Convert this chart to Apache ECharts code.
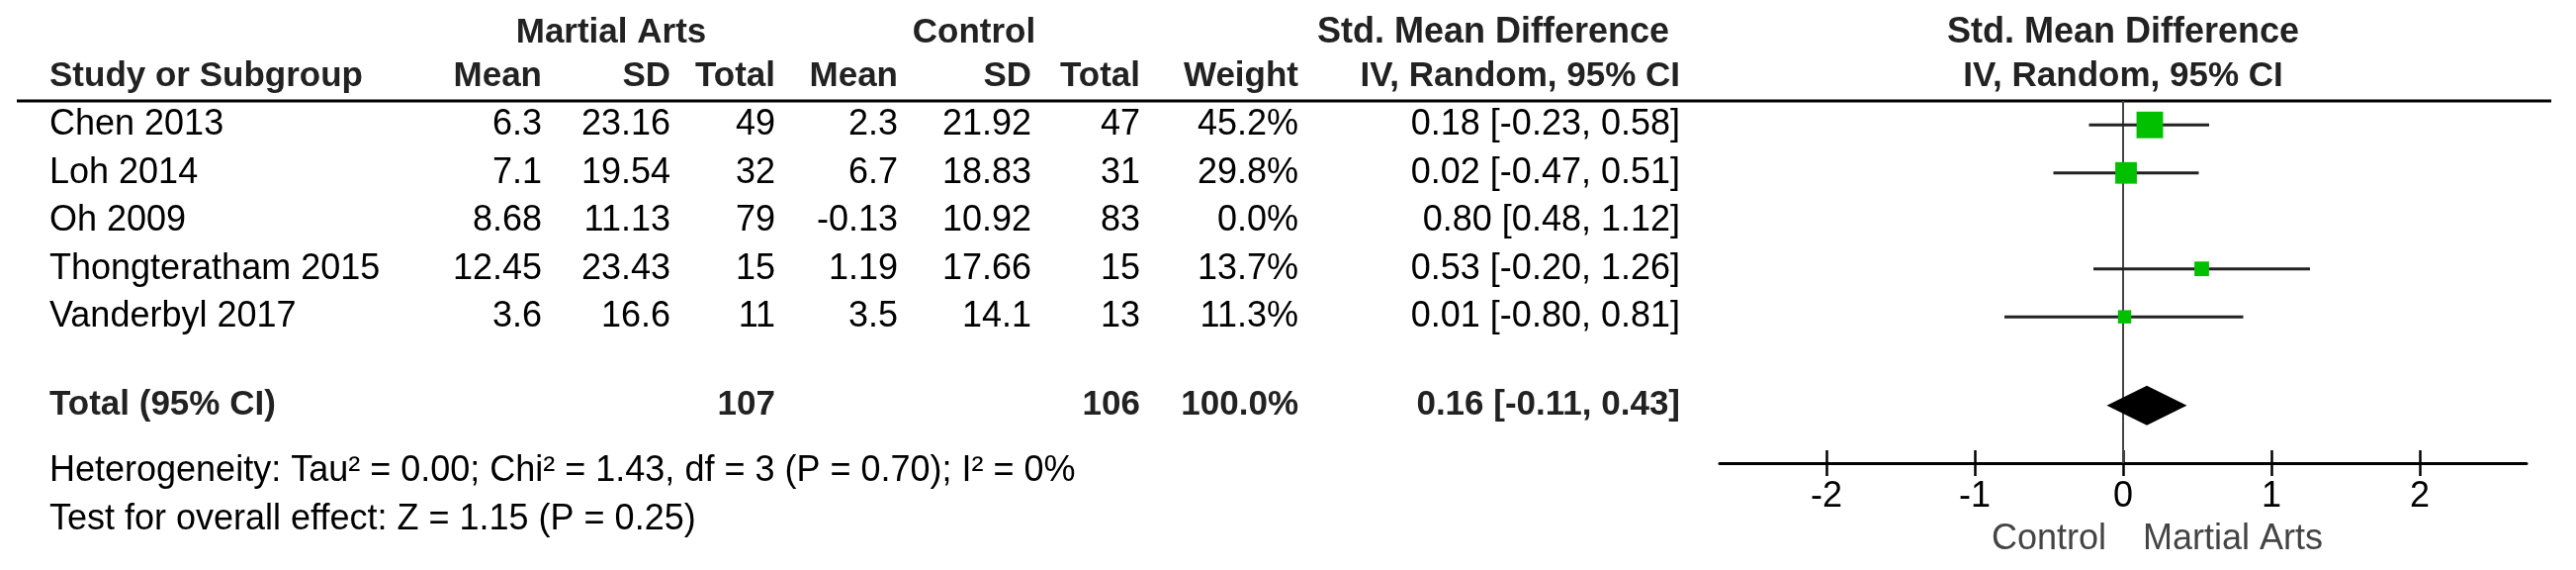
<!DOCTYPE html>
<html>
<head>
<meta charset="utf-8">
<script src="https://cdn.jsdelivr.net/npm/echarts@6/dist/echarts.min.js"></script>
<style>html,body{margin:0;padding:0;background:#fff}#c{width:2605px;height:576px}</style>
</head>
<body>
<div id="c"></div>
<script>
// ---------------- DATA ----------------
const studies   = ['Chen 2013', 'Loh 2014', 'Oh 2009', 'Thongteratham 2015', 'Vanderbyl 2017'];
const maMean    = [6.3, 7.1, 8.68, 12.45, 3.6];
const maSD      = [23.16, 19.54, 11.13, 23.43, 16.6];
const maTotal   = [49, 32, 79, 15, 11];
const cMean     = [2.3, 6.7, -0.13, 1.19, 3.5];
const cSD       = [21.92, 18.83, 10.92, 17.66, 14.1];
const cTotal    = [47, 31, 83, 15, 13];
const weight    = [45.2, 29.8, 0.0, 13.7, 11.3];
const smd       = [0.18, 0.02, 0.80, 0.53, 0.01];
const ciLow     = [-0.23, -0.47, 0.48, -0.20, -0.80];
const ciHigh    = [0.58, 0.51, 1.12, 1.26, 0.81];
const totalLabel = 'Total (95% CI)';
const totalMA   = 107;
const totalC    = 106;
const totalWeight = 100.0;
const totalSMD  = 0.16;
const totalLow  = -0.11;
const totalHigh = 0.43;
const heterogeneity = 'Heterogeneity: Tau² = 0.00; Chi² = 1.43, df = 3 (P = 0.70); I² = 0%';
const overallTest   = 'Test for overall effect: Z = 1.15 (P = 0.25)';
const xTicks    = [-2, -1, 0, 1, 2];
const groupHeaders = ['Martial Arts', 'Control', 'Std. Mean Difference', 'Std. Mean Difference'];
const colHeaders   = ['Study or Subgroup', 'Mean', 'SD', 'Total', 'Mean', 'SD', 'Total', 'Weight', 'IV, Random, 95% CI', 'IV, Random, 95% CI'];
const favourLeft  = 'Control';
const favourRight = 'Martial Arts';

// ---------------- LAYOUT ----------------
const FF = "'Liberation Sans', Arial, 'Helvetica', sans-serif";
const FS = 36;
const FSB = 35;
const colLeft = 50;
const colRight = [548, 678, 784, 908, 1043, 1153, 1313, 1699];
const totalRow = 5.85;
const Y_H1 = 33, Y_H2 = 77, Y_HET = 476, Y_TEST = 525;

function fmt2(v) { return v.toFixed(2); }
function ciText(e, l, h) { return fmt2(e) + ' [' + fmt2(l) + ', ' + fmt2(h) + ']'; }

function txt(x, y, text, align, bold, color, size) {
  const fs = size || (bold ? FSB : FS);
  return {
    type: 'text', x: x, y: y, silent: true,
    style: {
      text: text, fill: color || '#000',
      font: (bold ? 'bold ' : '') + fs + 'px ' + FF,
      align: align, textAlign: align,
      verticalAlign: 'middle', textVerticalAlign: 'middle'
    }
  };
}

const chart = echarts.init(document.getElementById('c'), null, { renderer: 'canvas' });

const tableData = studies.map((s, i) => [0, i]);
const forestData = studies.map((s, i) => [smd[i], i, ciLow[i], ciHigh[i], weight[i]]);

const headerColor = '#222';
const graphics = [
  { type: 'line', silent: true, shape: { x1: 17, y1: 102, x2: 2580, y2: 102 }, style: { stroke: '#000', lineWidth: 3 } },
  txt(618, Y_H1, groupHeaders[0], 'center', true, headerColor),
  txt(985, Y_H1, groupHeaders[1], 'center', true, headerColor),
  txt(1510, Y_H1, groupHeaders[2], 'center', true, headerColor, 36),
  txt(2147, Y_H1, groupHeaders[3], 'center', true, headerColor, 36),
  txt(colLeft, Y_H2, colHeaders[0], 'left', true, headerColor),
  txt(2147, Y_H2, colHeaders[9], 'center', true, headerColor),
  txt(colLeft, Y_HET, heterogeneity, 'left', false, '#000'),
  txt(colLeft, Y_TEST, overallTest, 'left', false, '#000'),
  txt(2130, 545, favourLeft, 'right', false, '#444'),
  txt(2167, 545, favourRight, 'left', false, '#444')
];
for (let k = 0; k < 8; k++) graphics.push(txt(colRight[k], Y_H2, colHeaders[k + 1], 'right', true, headerColor));

const option = {
  backgroundColor: '#fff',
  animation: false,
  grid: { left: 1739, right: 50, top: 102, bottom: 108, containLabel: false },
  xAxis: [
    {
      type: 'value', min: -2.72, max: 2.72, position: 'bottom',
      axisLine: { show: true, onZero: false, lineStyle: { color: '#000', width: 3 } },
      axisTick: { show: true, customValues: xTicks, length: 13, lineStyle: { color: '#000', width: 2.5 } },
      axisLabel: { show: true, customValues: xTicks, margin: 16, color: '#000', fontSize: FS, fontFamily: FF },
      splitLine: { show: false }
    },
    {
      type: 'value', min: -2.72, max: 2.72, position: 'bottom',
      axisLine: { show: false, onZero: false },
      axisTick: { show: true, inside: true, customValues: xTicks, length: 13, lineStyle: { color: '#000', width: 2.5 } },
      axisLabel: { show: false },
      splitLine: { show: false }
    }
  ],
  yAxis: { type: 'value', min: -0.5, max: 7.05, inverse: true, show: false },
  graphic: graphics,
  series: [
    {
      // zero (no-effect) line
      type: 'custom', z: 1, clip: false,
      data: [[0, -0.5, 7.05]],
      renderItem: function (params, api) {
        const a = api.coord([api.value(0), api.value(1)]);
        const b = api.coord([api.value(0), api.value(2)]);
        return { type: 'line', shape: { x1: a[0], y1: a[1], x2: b[0], y2: b[1] }, style: { stroke: '#444', lineWidth: 2 } };
      }
    },
    {
      // CI whiskers + weighted squares
      type: 'custom', z: 5, clip: false,
      data: forestData,
      renderItem: function (params, api) {
        const w = api.value(4);
        if (!(w > 0)) return { type: 'group', children: [] };
        const r = api.value(1);
        const p0 = api.coord([api.value(2), r]);
        const p1 = api.coord([api.value(3), r]);
        const pc = api.coord([api.value(0), r]);
        const s = 4 * Math.sqrt(w);
        return {
          type: 'group',
          children: [
            { type: 'line', shape: { x1: p0[0], y1: p0[1], x2: p1[0], y2: p1[1] }, style: { stroke: '#222', lineWidth: 3 } },
            { type: 'rect', shape: { x: pc[0] - s / 2, y: pc[1] - s / 2, width: s, height: s }, style: { fill: '#00c000', stroke: null } }
          ]
        };
      }
    },
    {
      // pooled diamond
      type: 'custom', z: 5, clip: false,
      data: [[totalSMD, totalRow, totalLow, totalHigh]],
      renderItem: function (params, api) {
        const r = api.value(1);
        const pl = api.coord([api.value(2), r]);
        const ph = api.coord([api.value(3), r]);
        const pc = api.coord([api.value(0), r]);
        const h = 20;
        return {
          type: 'polygon',
          shape: { points: [[pl[0], pl[1]], [pc[0], pc[1] - h], [ph[0], ph[1]], [pc[0], pc[1] + h]] },
          style: { fill: '#000', stroke: null }
        };
      }
    },
    {
      // study rows table text
      type: 'custom', z: 3, clip: false,
      data: tableData,
      renderItem: function (params, api) {
        const i = params.dataIndex;
        const y = api.coord([0, api.value(1)])[1];
        const vals = [String(maMean[i]), String(maSD[i]), String(maTotal[i]), String(cMean[i]), String(cSD[i]), String(cTotal[i]),
                      weight[i].toFixed(1) + '%', ciText(smd[i], ciLow[i], ciHigh[i])];
        const children = [txt(colLeft, y, studies[i], 'left', false, '#000')];
        vals.forEach((v, k) => children.push(txt(colRight[k], y, v, 'right', false, '#000')));
        return { type: 'group', children: children };
      }
    },
    {
      // total row text
      type: 'custom', z: 3, clip: false,
      data: [[0, totalRow]],
      renderItem: function (params, api) {
        const y = api.coord([0, api.value(1)])[1];
        return {
          type: 'group',
          children: [
            txt(colLeft, y, totalLabel, 'left', true, headerColor),
            txt(colRight[2], y, String(totalMA), 'right', true, headerColor),
            txt(colRight[5], y, String(totalC), 'right', true, headerColor),
            txt(colRight[6], y, totalWeight.toFixed(1) + '%', 'right', true, headerColor),
            txt(colRight[7], y, ciText(totalSMD, totalLow, totalHigh), 'right', true, headerColor)
          ]
        };
      }
    }
  ]
};
chart.setOption(option);
</script>
</body>
</html>
